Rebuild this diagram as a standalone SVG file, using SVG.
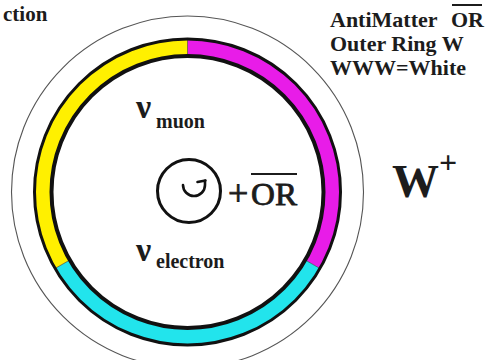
<svg xmlns="http://www.w3.org/2000/svg" width="491" height="360" viewBox="0 0 491 360">
<style>
.t{font-family:"Liberation Serif","Times New Roman",serif;font-weight:bold;fill:#1c1c1c}
.n{font-family:"Liberation Serif","Times New Roman",serif;font-weight:normal;fill:#1c1c1c;stroke:#1c1c1c;stroke-width:0.8}
.band{fill:none;stroke-width:16}
.edge{fill:none;stroke:#111}
</style>
<rect width="491" height="360" fill="#fff"/>
<g id="outer-ring">
<circle cx="187.5" cy="192" r="176" fill="none" stroke="#555" stroke-width="1.1"/>
</g>
<g id="color-ring">
<path class="band" stroke="#e81ce8" d="M187.5,47 A145,145 0 0 1 313.07,264.5"/>
<path class="band" stroke="#22e4ec" d="M313.07,264.5 A145,145 0 0 1 61.93,264.5"/>
<path class="band" stroke="#fff000" d="M61.93,264.5 A145,145 0 0 1 187.5,47"/>
<g stroke="#333" stroke-width="1" opacity="0.6">
<line x1="187.5" y1="39" x2="187.5" y2="55"/>
<line x1="305.7" y1="260.3" x2="320.5" y2="268.8"/>
<line x1="69.3" y1="260.3" x2="54.5" y2="268.8"/>
</g>
<circle class="edge" cx="187.5" cy="192" r="153" stroke-width="3"/>
<circle class="edge" cx="187.5" cy="192" r="136" stroke-width="4"/>
</g>
<g id="center">
<circle cx="189" cy="191" r="31.5" fill="none" stroke="#111" stroke-width="3"/>
<path d="M183,185 A11,11 0 1 0 205,185 L205,180.5 M205.5,180.5 L197.5,182" fill="none" stroke="#111" stroke-width="2.6" stroke-linecap="round"/>
<text class="n" x="228" y="205" font-size="36">+</text>
<text class="n" x="251" y="205" font-size="31" textLength="46" lengthAdjust="spacingAndGlyphs">OR</text>
<line x1="251" y1="174" x2="297" y2="174" stroke="#1c1c1c" stroke-width="2"/>
</g>
<g id="nu-muon">
<text class="t" x="136" y="118" font-size="34">ν</text>
<text class="t" x="156" y="128" font-size="20">muon</text>
</g>
<g id="nu-electron">
<text class="t" x="136" y="261" font-size="34">ν</text>
<text class="t" x="156" y="268" font-size="20">electron</text>
</g>
<g id="w-plus">
<text class="t" x="392" y="197" font-size="47">W</text>
<text class="t" x="439" y="173" font-size="32">+</text>
</g>
<g id="legend">
<text class="t" x="330" y="27" font-size="22">AntiMatter</text>
<text class="t" x="451" y="27" font-size="22">OR</text>
<line x1="452" y1="5" x2="482" y2="5" stroke="#1c1c1c" stroke-width="2"/>
<text class="t" x="330" y="51" font-size="22">Outer Ring W</text>
<text class="t" x="330" y="75" font-size="22">WWW=White</text>
</g>
<g id="caption">
<text class="t" x="3" y="21" font-size="21">ction</text>
</g>
<g id="connectors"/>
</svg>
